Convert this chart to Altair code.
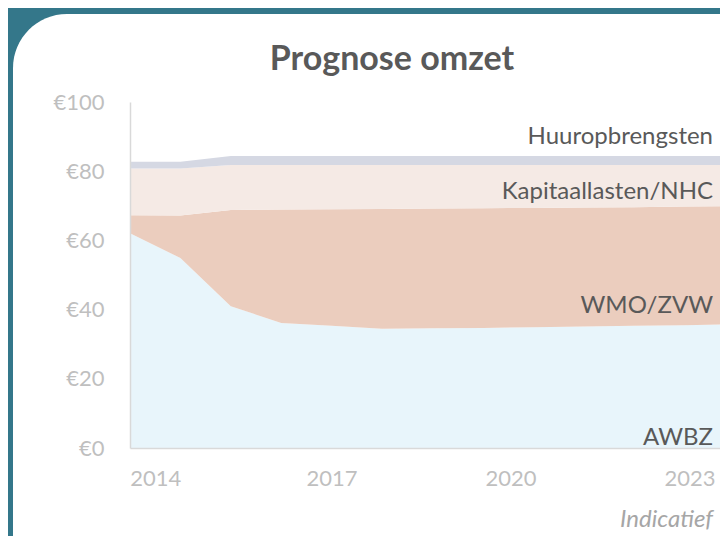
import altair as alt
import pandas as pd

# ---- data (index = data point along the x axis) ----
point_index = list(range(13))
awbz = [62.1, 54.9, 41.0, 36.1, 35.3, 34.5, 34.6, 34.7, 34.9, 35.1, 35.3, 35.5, 35.8]
awbz_wmo_top = [67.3, 67.2, 68.8, 68.9, 69.0, 69.1, 69.2, 69.3, 69.4, 69.5, 69.6, 69.8, 69.9]
kap_top = [80.8, 80.8, 81.8, 81.8, 81.8, 81.8, 81.8, 81.8, 81.8, 81.8, 81.8, 81.8, 81.8]
huur_top = [82.7, 82.7, 84.4, 84.4, 84.4, 84.4, 84.4, 84.4, 84.4, 84.4, 84.4, 84.4, 84.4]

series_names = ["AWBZ", "WMO/ZVW", "Kapitaallasten/NHC", "Huuropbrengsten"]
series_colors = ["#E8F5FB", "#EBCDBE", "#F5EAE5", "#D5D8E3"]

x_tick_labels = ["2014", "2017", "2020", "2023"]
x_tick_positions = [0.5, 4.0, 7.55, 11.1]
y_ticks = [0, 20, 40, 60, 80, 100]

wmo = [round(t - a, 2) for t, a in zip(awbz_wmo_top, awbz)]
kap = [round(k - t, 2) for k, t in zip(kap_top, awbz_wmo_top)]
huur = [round(h - k, 2) for h, k in zip(huur_top, kap_top)]

rows = []
for order, (name, vals) in enumerate(zip(series_names, [awbz, wmo, kap, huur])):
    for i, v in zip(point_index, vals):
        rows.append({"i": i, "reeks": name, "waarde": v, "volgorde": order})
df = pd.DataFrame(rows)

W, H = 590, 346
X_MAX = 11.706
FONT = "Lato"
TEAL = "#34778A"

# white card (decoration)
card = alt.Chart(pd.DataFrame({"c": [0]})).mark_rect(
    color="white", cornerRadius=54
).encode(
    x=alt.value(-117), x2=alt.value(660), y=alt.value(-88), y2=alt.value(520)
)

label_expr = "{}[indexof({}, datum.value)]".format(
    str(x_tick_labels), str(x_tick_positions)
)

areas = alt.Chart(df).mark_area(clip=True, interpolate="linear").encode(
    x=alt.X(
        "i:Q",
        scale=alt.Scale(domain=[0, X_MAX], nice=False, zero=False),
        axis=alt.Axis(
            values=x_tick_positions, labelExpr=label_expr, grid=False,
            ticks=False, tickSize=0, domainColor="#D9D9D9", domainWidth=1.5,
            labelColor="#BFBFBF", labelFontSize=22, labelFont=FONT,
            labelPadding=20, title=None, zindex=1, labelFlush=False,
        ),
    ),
    y=alt.Y(
        "waarde:Q",
        stack="zero",
        scale=alt.Scale(domain=[0, 100], nice=False),
        axis=alt.Axis(
            values=y_ticks, labelExpr="'€' + datum.value", grid=False,
            ticks=False, tickSize=0, domainColor="#D9D9D9", domainWidth=1.5,
            labelColor="#BFBFBF", labelFontSize=22, labelFont=FONT,
            labelPadding=26, title=None, zindex=1,
        ),
    ),
    color=alt.Color(
        "reeks:N",
        scale=alt.Scale(domain=series_names, range=series_colors),
        legend=None,
    ),
    order=alt.Order("volgorde:Q", sort="ascending"),
)

label_y_px = [35, 90, 204, 336]
label_df = pd.DataFrame({"naam": series_names[::-1], "py": label_y_px})
labels = alt.Chart(label_df).mark_text(
    align="right", baseline="middle", font=FONT, fontSize=24, color="#595959"
).encode(
    x=alt.value(583), y=alt.Y("py:Q", scale=None), text="naam:N"
)

title = alt.Chart(pd.DataFrame({"t": ["Prognose omzet"]})).mark_text(
    align="center", baseline="middle", font=FONT, fontSize=34,
    fontWeight="bold", color="#595959"
).encode(x=alt.value(262), y=alt.value(-42), text="t:N")

note = alt.Chart(pd.DataFrame({"t": ["Indicatief"]})).mark_text(
    align="right", baseline="middle", font=FONT, fontSize=24,
    fontStyle="italic", color="#A6A6A6"
).encode(x=alt.value(583), y=alt.value(418), text="t:N")

chart = alt.layer(card, areas, labels, title, note).properties(
    width=W, height=H,
    autosize="none",
    padding={"left": 122, "top": 94, "right": 0, "bottom": 88},
    background=TEAL,
).configure_view(stroke=None)

chart.save("out.html", embed_options={"renderer": "svg", "actions": False})
